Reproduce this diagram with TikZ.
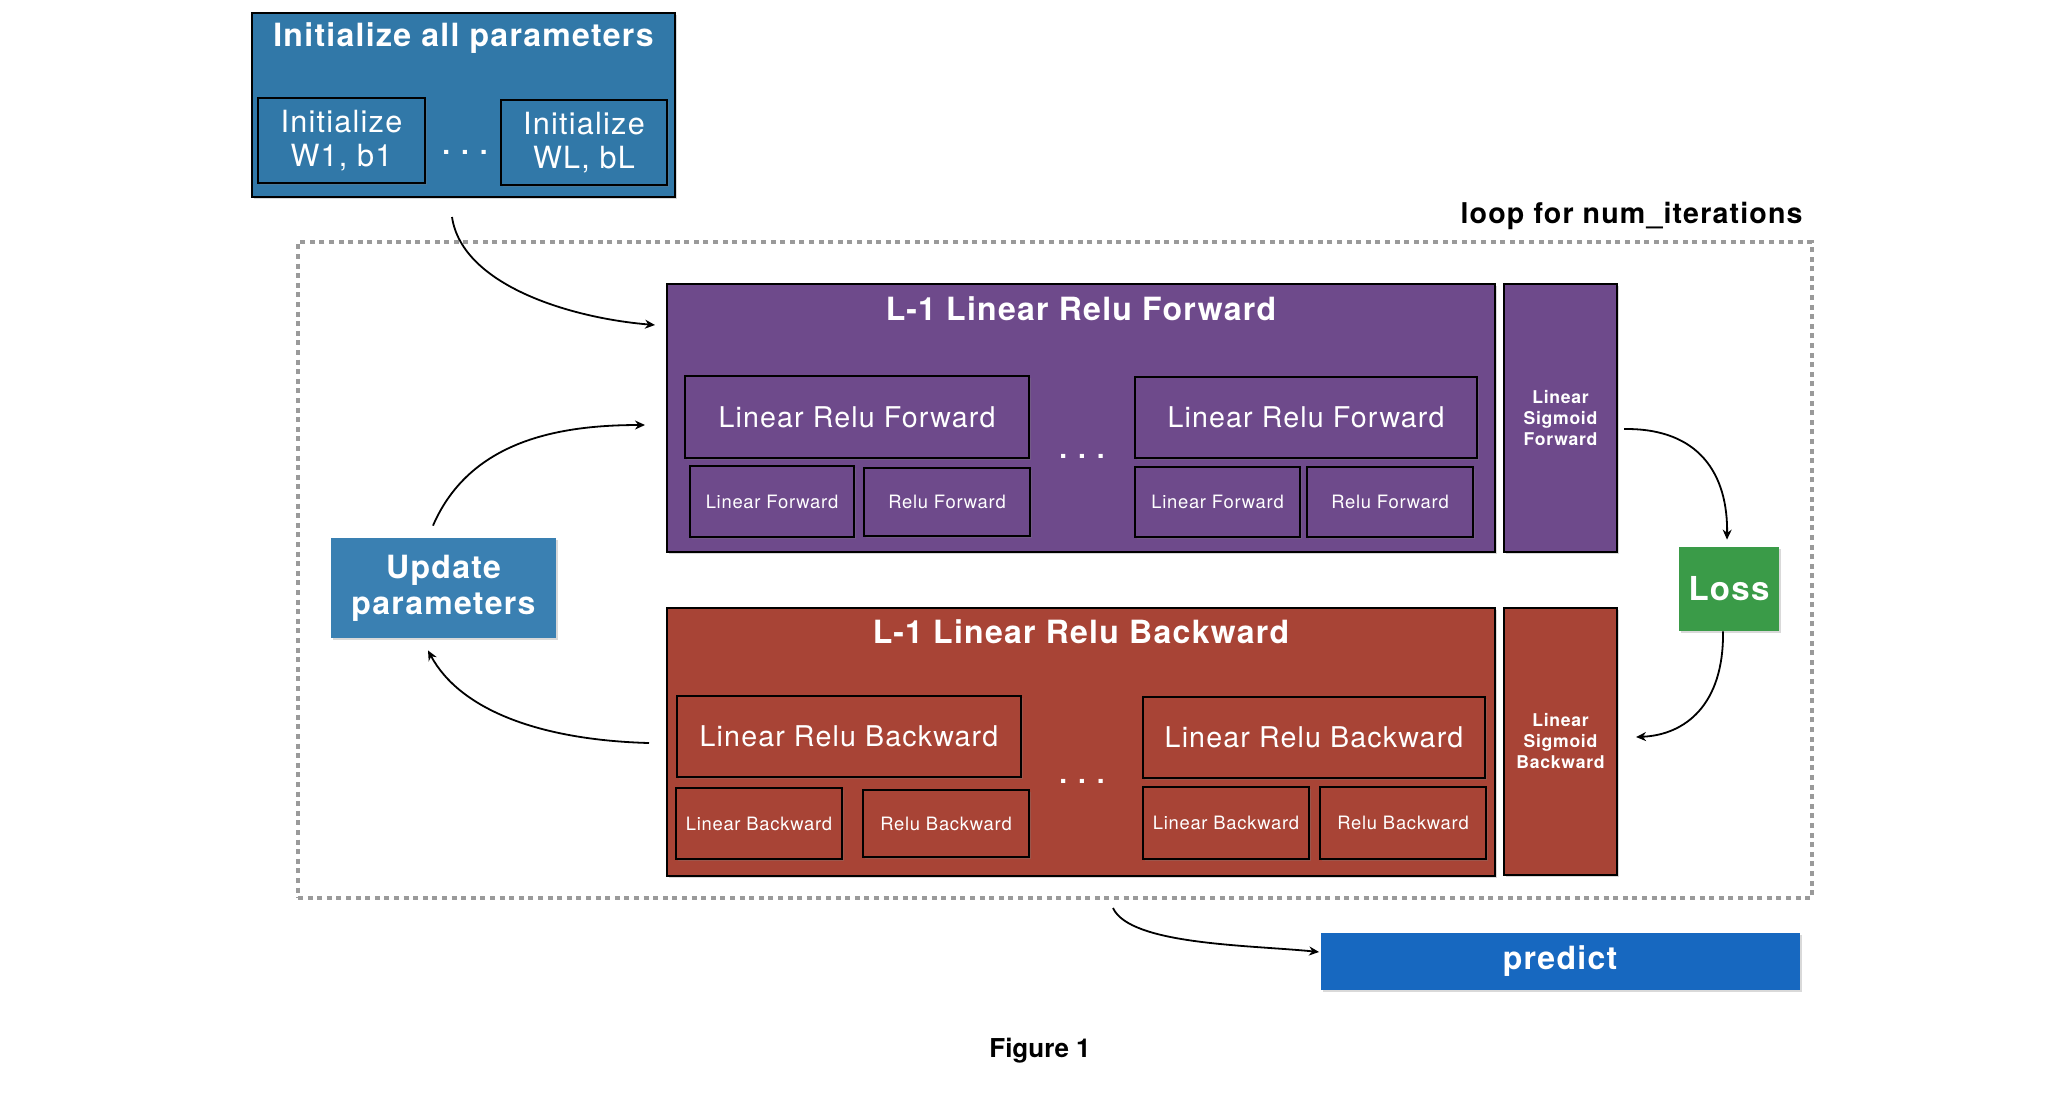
\documentclass[tikz,border=0pt]{standalone}
\usepackage{fontspec}
\setmainfont{TeX Gyre Heros}[LetterSpace=4]
\newfontfamily\titlefont{TeX Gyre Heros}[LetterSpace=4]
\newfontfamily\plainfont{TeX Gyre Heros}
\usetikzlibrary{arrows.meta,shadows,calc}
\definecolor{initblue}{HTML}{3178A8}
\definecolor{updblue}{HTML}{3A80B2}
\definecolor{fwdpurple}{HTML}{6E4A8B}
\definecolor{bwdred}{HTML}{A84436}
\definecolor{lossgreen}{HTML}{3A9B48}
\definecolor{predblue}{HTML}{1768C0}
\definecolor{loopgray}{HTML}{9A9A9A}
\tikzset{
  shd/.style={drop shadow={shadow xshift=1.2pt,shadow yshift=-1.2pt,opacity=0.3}},
  bigbox/.style={draw=black, line width=1pt, inner sep=0pt, shd},
  flatbox/.style={inner sep=0pt, shd, text=white, align=center},
  inbox/.style={draw=black, line width=1.1pt, inner sep=0pt, text=white, align=center, shd},
  titletxt/.style={text=white, inner sep=0pt, font=\titlefont\bfseries\fontsize{16}{18}\selectfont},
  midtxt/.style={font=\fontsize{14.3}{16.5}\selectfont},
  smalltxt/.style={font=\fontsize{9.2}{11}\selectfont},
  sigtxt/.style={text=white, align=center, font=\titlefont\bfseries\fontsize{8.8}{10.5}\selectfont},
  conn/.style={-{Stealth[length=5pt,width=4.5pt]}, line width=0.9pt, black},
  dotstxt/.style={text=white, inner sep=0pt, font=\plainfont\bfseries\fontsize{14}{14}\selectfont},
}
\newcommand{\tridots}{.\hspace{5.5pt}.\hspace{5.5pt}.}
\begin{document}
\begin{tikzpicture}[x=0.5pt,y=-0.5pt]
\useasboundingbox (0,0) rectangle (2050,1116);

% loop frame
\node[draw=loopgray, dash pattern=on 2.5pt off 2.3pt, line width=2pt, minimum width=757pt, minimum height=328pt, inner sep=0pt] (loop) at (1055,570) {};
\node[anchor=east, inner sep=0pt, font=\titlefont\bfseries\fontsize{14.3}{16}\selectfont] (looplbl) at (1803,216) {loop for num\_iterations};

% initialize
\node[bigbox, fill=initblue, minimum width=211.5pt, minimum height=92pt] (init) at (463.5,105) {};
\node[titletxt] (inittitle) at (463.5,38) {Initialize all parameters};
\node[inbox, fill=initblue, minimum width=83.5pt, minimum height=42.5pt, font=\fontsize{15.3}{16.8}\selectfont] (initw1) at (341.5,140.5) {Initialize\\W1, b1};
\node[inbox, fill=initblue, minimum width=83pt, minimum height=42.5pt, font=\fontsize{15.3}{16.8}\selectfont] (initwl) at (584,142.5) {Initialize\\WL, bL};
\node[dotstxt] (initdots) at (465,152) {\tridots};

% forward
\node[bigbox, fill=fwdpurple, minimum width=414pt, minimum height=134pt] (fwd) at (1081,418) {};
\node[titletxt] (fwdtitle) at (1081,309) {L-1 Linear Relu Forward};
\node[inbox, fill=fwdpurple, minimum width=172pt, minimum height=41pt, midtxt] (lrf1) at (857,417) {Linear Relu Forward};
\node[inbox, fill=fwdpurple, minimum width=82pt, minimum height=35.5pt, smalltxt] (lf1) at (772,501.5) {Linear Forward};
\node[inbox, fill=fwdpurple, minimum width=83pt, minimum height=34pt, smalltxt] (rf1) at (947,502) {Relu Forward};
\node[dotstxt] (fwddots) at (1082,456) {\tridots};
\node[inbox, fill=fwdpurple, minimum width=171pt, minimum height=40.5pt, midtxt] (lrf2) at (1306,417.5) {Linear Relu Forward};
\node[inbox, fill=fwdpurple, minimum width=82.5pt, minimum height=35pt, smalltxt] (lf2) at (1217.5,502) {Linear Forward};
\node[inbox, fill=fwdpurple, minimum width=83pt, minimum height=35pt, smalltxt] (rf2) at (1390,502) {Relu Forward};
\node[bigbox, fill=fwdpurple, minimum width=56.5pt, minimum height=134pt, sigtxt] (sigf) at (1560.5,418) {Linear\\Sigmoid\\Forward};

% backward
\node[bigbox, fill=bwdred, minimum width=414pt, minimum height=134pt] (bwd) at (1081,742) {};
\node[titletxt] (bwdtitle) at (1081,632) {L-1 Linear Relu Backward};
\node[inbox, fill=bwdred, minimum width=172pt, minimum height=40.5pt, midtxt] (lrb1) at (849,736.5) {Linear Relu Backward};
\node[inbox, fill=bwdred, minimum width=83pt, minimum height=35.5pt, smalltxt] (lb1) at (759,823.5) {Linear Backward};
\node[inbox, fill=bwdred, minimum width=83pt, minimum height=33.5pt, smalltxt] (rb1) at (946,823.5) {Relu Backward};
\node[dotstxt] (bwddots) at (1082,781) {\tridots};
\node[inbox, fill=bwdred, minimum width=171pt, minimum height=40.5pt, midtxt] (lrb2) at (1314,737.5) {Linear Relu Backward};
\node[inbox, fill=bwdred, minimum width=83pt, minimum height=36pt, smalltxt] (lb2) at (1226,823) {Linear Backward};
\node[inbox, fill=bwdred, minimum width=83pt, minimum height=36pt, smalltxt] (rb2) at (1403,823) {Relu Backward};
\node[bigbox, fill=bwdred, minimum width=56.5pt, minimum height=133.5pt, sigtxt] (sigb) at (1560.5,741.5) {Linear\\Sigmoid\\Backward};

% loss, update, predict
\node[flatbox, fill=lossgreen, minimum width=50pt, minimum height=42pt, font=\titlefont\bfseries\fontsize{16.5}{18}\selectfont] (loss) at (1729,589) {Loss};
\node[flatbox, fill=updblue, minimum width=112.5pt, minimum height=50pt, font=\titlefont\bfseries\fontsize{16}{18}\selectfont] (update) at (443.5,588) {Update\\parameters};
\node[flatbox, fill=predblue, minimum width=239.5pt, minimum height=28.5pt, font=\titlefont\bfseries\fontsize{16}{18}\selectfont] (predict) at (1560,961) {\raisebox{-1.5pt}{predict}};
\node[inner sep=0pt, font=\plainfont\bfseries\fontsize{13}{15}\selectfont] (figlbl) at (1040,1051) {Figure 1};

% connectors
\draw[conn] ($(init.south)+(-11.5,19)$) .. controls (462,285) and (570,318) .. ($(fwd.north west)+(-11,42)$);
\draw[conn] ($(update.north)+(-10.5,-12)$) .. controls (470,440) and (560,425) .. ($(fwd.west)+(-21,7)$);
\draw[conn] ($(bwd.west)+(-17,1)$) .. controls (540,740) and (460,710) .. ($(update.south)+(-15.5,12)$);
\draw[conn] ($(sigf.east)+(6,11)$) .. controls (1700,428) and (1728,475) .. ($(loss.north)+(-2,-7)$);
\draw[conn] ($(loss.south)+(-6,0)$) .. controls (1724,705) and (1685,735) .. ($(sigb.east)+(18,-4.5)$);
\draw[conn] ($(loop.south)+(58,8)$) .. controls (1130,945) and (1250,945) .. ($(predict.west)+(-1,-9)$);
\end{tikzpicture}
\end{document}
